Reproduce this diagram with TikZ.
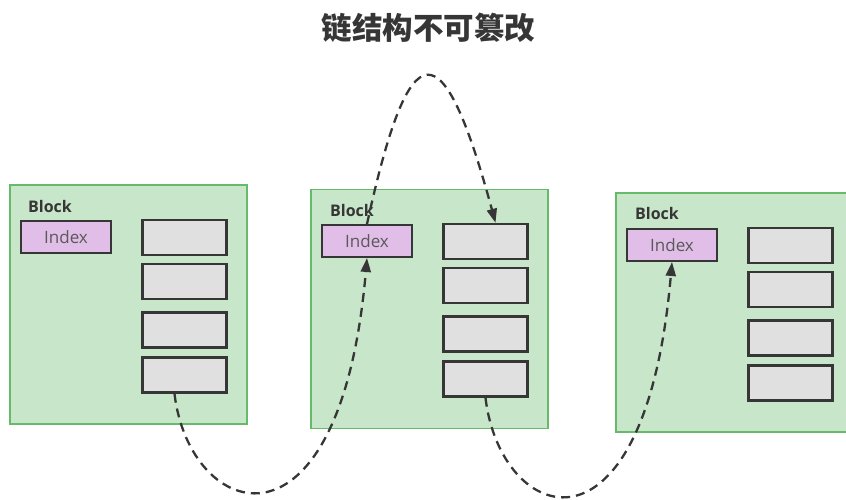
\documentclass[tikz,border=0pt]{standalone}
\usepackage{fontspec}
\setmainfont{Open Sans}
\newfontfamily\cjk{Noto Sans CJK SC}
\usepackage{tikz}
\usetikzlibrary{arrows.meta}
\definecolor{blockgreen}{HTML}{C8E6C9}
\definecolor{blockedge}{HTML}{66BB6A}
\definecolor{idxfill}{HTML}{E1BEE7}
\definecolor{cellfill}{HTML}{E0E0E0}
\definecolor{inkgray}{HTML}{363636}

\begin{document}
\begin{tikzpicture}[
  x=1pt, y=-1pt,
  block/.style={draw=blockedge, fill=blockgreen, line width=1.8pt, minimum width=237pt, minimum height=239pt, inner sep=0pt},
  tag/.style={font=\bfseries\fontsize{16}{18}\selectfont, text=inkgray, anchor=base west, inner sep=0pt},
  idx/.style={draw=inkgray, fill=idxfill, line width=2pt, minimum width=90pt, minimum height=32pt, inner sep=0pt, font=\fontsize{17}{20}\selectfont, text=black!65},
  cell/.style={draw=inkgray, fill=cellfill, line width=2.5pt, minimum width=84pt, minimum height=35pt, inner sep=0pt},
  link/.style={draw=inkgray, line width=2.3pt, dash pattern=on 9pt off 6pt, -{Triangle[length=14pt, width=10pt]}}
]
\clip (0,0) rectangle (846,500);

\node[font=\cjk\bfseries\fontsize{30.5}{34}\selectfont, text=inkgray] (title) at (428.5, 28) {链结构不可篡改};

% first block
\node[block] (B1) at (128.5, 304.5) {};
\node[tag] (T1) at (28, 212) {Block};
\node[idx] (I1) at (66, 237) {Index};
\node[cell] (C11) at (184.5, 237.5) {};
\node[cell] (C12) at (184.5, 281.5) {};
\node[cell] (C13) at (184.5, 330) {};
\node[cell] (C14) at (184.5, 375) {};

% second block
\node[block] (B2) at (429.5, 309) {};
\node[tag] (T2) at (330, 216) {Block};
\node[idx] (I2) at (367, 241) {Index};
\node[cell] (C21) at (485.5, 241.5) {};
\node[cell] (C22) at (485.5, 285.5) {};
\node[cell] (C23) at (485.5, 334) {};
\node[cell] (C24) at (485.5, 379) {};

% third block
\node[block] (B3) at (734.5, 312.5) {};
\node[tag] (T3) at (635, 219) {Block};
\node[idx] (I3) at (672, 245) {Index};
\node[cell] (C31) at (790.5, 245.5) {};
\node[cell] (C32) at (790.5, 289.5) {};
\node[cell] (C33) at (790.5, 338) {};
\node[cell] (C34) at (790.5, 383) {};

\draw[link] ([xshift=-10pt]C14.south) .. controls +(15,127) and +(-27,312) .. (I2.south);
\draw[link] (I2.north) .. controls +(43,-197) and +(-53,-195) .. ([xshift=10pt]C21.north);
\draw[link] (C24.south) .. controls +(15,127) and +(-27,312) .. (I3.south);
\end{tikzpicture}
\end{document}
